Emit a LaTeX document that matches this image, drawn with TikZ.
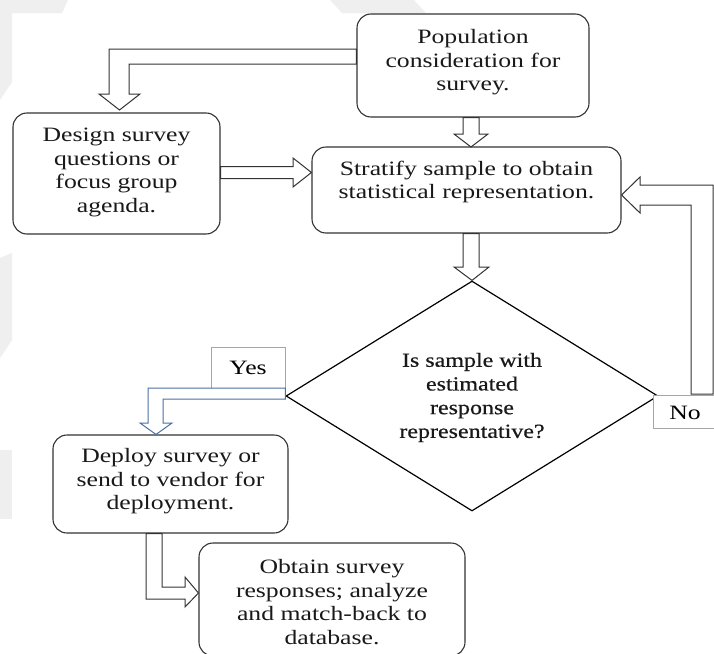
\documentclass[tikz,border=0pt]{standalone}
\usepackage{fontspec}
\setmainfont{Liberation Serif}[FakeStretch=1.26]
\newfontfamily\qfont{Liberation Serif}[FakeStretch=1.2,FakeBold=0.5]
\usetikzlibrary{shapes.geometric}
\definecolor{edge}{HTML}{333333}
\definecolor{wmgray}{HTML}{EFEFEF}
\definecolor{yesblue}{HTML}{4A6FA5}
\definecolor{tag}{HTML}{A6A6A6}

\begin{document}
\begin{tikzpicture}[x=1pt,y=-1pt,
  stepbox/.style={draw=edge, line width=1.1pt, rounded corners=14pt, fill=white, inner sep=0pt},
  caption/.style={align=center, font=\fontsize{20.4}{23.5}\selectfont, inner sep=0pt, text=black!90},
  blockarrow/.style={draw=edge, line width=1pt, fill=white, line join=miter},
  tagbox/.style={draw=tag, line width=0.8pt, fill=white, inner sep=0pt,
                 font=\fontsize{20.4}{23.5}\selectfont}
]
% page frame
\useasboundingbox[fill=white] (0,0) rectangle (714,653);

% faint background marks in the margins
\fill[wmgray] (0,0) -- (68,0) -- (62,13) -- (12,13) -- (12,82) -- (0,100) -- cycle;
\fill[wmgray] (330,0) -- (414,0) -- (426,13) -- (342,13) -- cycle;
\fill[wmgray] (0,258) -- (12,253) -- (12,340) -- (0,358) -- cycle;
\fill[wmgray] (0,450) -- (12,450) -- (12,519) -- (0,519) -- cycle;

% process boxes
\node[stepbox, minimum width=232pt, minimum height=103pt] (pop)    at (473,65.5)  {};
\node[stepbox, minimum width=207pt, minimum height=121pt] (design) at (116.5,173.5) {};
\node[stepbox, minimum width=309pt, minimum height=86pt]  (strat)  at (466.5,190) {};
\node[stepbox, minimum width=235pt, minimum height=98pt]  (deploy) at (170.5,484) {};
\node[stepbox, minimum width=266pt, minimum height=113pt] (obtain) at (332,599.5) {};

% decision
\node[draw=black, line width=1.2pt, shape=diamond, minimum width=372pt,
      minimum height=230pt, inner sep=0pt, fill=white] (q) at (472,396) {};

% answer tags
\node[tagbox, minimum width=74pt, minimum height=41pt] (yes) at (248,367.5) {Yes};
\node[tagbox, minimum width=80pt, minimum height=33pt, anchor=north west] (no) at (653,395) {};
\node[font=\fontsize{20.4}{23.5}\selectfont, inner sep=0pt] (notext) at (685,413) {No};

% box texts
\node[caption] (popt)    at (473,62.5)   {Population\\consideration for\\survey.};
\node[caption] (designt) at (116.5,172.5) {Design survey\\questions or\\focus group\\agenda.};
\node[caption] (stratt)  at (466.5,182)  {Stratify sample to obtain\\statistical representation.};
\node[caption, font=\qfont\fontsize{20}{23.7}\selectfont] (qt) at (472,397.5)
      {Is sample with\\estimated\\response\\representative?};
\node[caption] (deployt) at (170.5,481.5) {Deploy survey or\\send to vendor for\\deployment.};
\node[caption] (obtaint) at (332,602)    {Obtain survey\\responses; analyze\\and match-back to\\database.};

% block arrows
% population -> design (elbow)
\draw[blockarrow] (pop.west |- 0,49) -- (109,49) -- (109,94) -- (99,94)
      -- (119.5,110) -- (140,94) -- (129,94) -- (129,64) -- (pop.west |- 0,64) -- cycle;
% design -> stratify
\draw[blockarrow] (design.east |- 0,166.5) -- (293,166.5) -- (293,158)
      -- (strat.west |- 0,172.5) -- (293,187) -- (293,178.5) -- (design.east |- 0,178.5) -- cycle;
% population -> stratify
\draw[blockarrow] (463,0 |- pop.south) -- (463,134) -- (454,134)
      -- (471,147) -- (488,134) -- (479,134) -- (479,0 |- pop.south) -- cycle;
% stratify -> decision
\draw[blockarrow] (463,0 |- strat.south) -- (463,267) -- (454,267)
      -- (q.north) -- (489,267) -- (479,267) -- (479,0 |- strat.south) -- cycle;
% no: back to stratify
\draw[blockarrow] (713,394) -- (713,185) -- (640,185) -- (640,177)
      -- (strat.east |- 0,195) -- (640,213) -- (640,205) -- (691,205) -- (691,394) -- cycle;
% yes: to deployment
\draw[blockarrow, draw=yesblue] (q.west |- 0,388) -- (148,388) -- (148,423) -- (140,423)
      -- (156,0 |- deploy.north) -- (172,423) -- (163,423) -- (163,399) -- (q.west |- 0,399) -- cycle;
% deployment -> responses
\draw[blockarrow] (146,0 |- deploy.south) -- (146,599) -- (185,599) -- (185,607)
      -- (obtain.west |- 0,593) -- (185,577) -- (185,587) -- (162,587) -- (162,0 |- deploy.south) -- cycle;
\end{tikzpicture}
\end{document}
